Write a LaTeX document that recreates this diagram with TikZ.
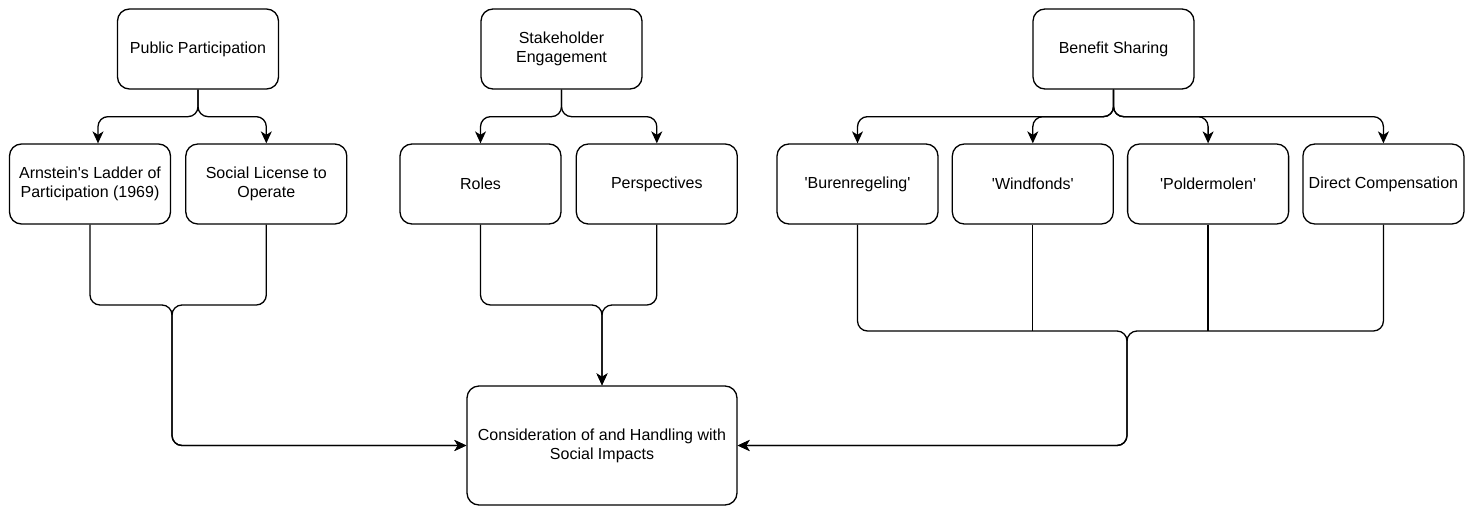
\documentclass[tikz,border=0pt]{standalone}
\usepackage{fontspec}
\setmainfont{Liberation Sans}
\usepackage{tikz}
\usetikzlibrary{arrows.meta,positioning}
\def\q{\textquotesingle}

\begin{document}
\begin{tikzpicture}[x=1pt,y=-1pt,->,>={Stealth[length=12pt,width=11pt,inset=3.5pt]},
                    line width=1.3pt,rounded corners=10pt,
                    box node/.style={draw,rounded corners=12pt,minimum width=161pt,minimum height=80pt,
                                     align=center,font=\fontsize{16}{19}\selectfont}]

  \useasboundingbox (0,0) rectangle (1474,506);

  \node[box node] (pp) at (198,49) {Public Participation};
  \node[box node] (se) at (561.5,49) {Stakeholder\\Engagement};
  \node[box node] (bs) at (1113.5,49) {Benefit Sharing};

  \node[box node] (arn) at (90,184) {Arnstein\q s Ladder of\\Participation (1969)};
  \node[box node] (slo) [right=14pt of arn] {Social License to\\Operate};
  \node[box node] (rol) at (480.5,184) {Roles};
  \node[box node] (per) [right=14pt of rol] {Perspectives};
  \node[box node] (bur) at (857.5,184) {\q Burenregeling\q};
  \node[box node] (win) [right=13pt of bur] {\q Windfonds\q};
  \node[box node] (pol) [right=13pt of win] {\q Poldermolen\q};
  \node[box node] (dc) [right=13pt of pol] {Direct Compensation};

  \node[box node,minimum width=270pt,minimum height=119pt] (con) at (602,445.5)
       {Consideration of and Handling with\\Social Impacts};

  \coordinate (ppjoin) at (172,305);
  \coordinate (sejoin) at (602,305);
  \coordinate (bsjoin) at (1127,331);

  % splits
  \draw (pp.south) -- ++(0,27) -| ([xshift=8pt]arn.north);
  \draw (pp.south) -- ++(0,27) -| (slo.north);
  \draw (se.south) -- ++(0,27) -| (rol.north);
  \draw (se.south) -- ++(0,27) -| (per.north);
  \foreach \n in {bur,win,pol,dc}
    \draw (bs.south) -- ++(0,27) -| (\n.north);

  % merges
  \draw (arn.south) |- (ppjoin) |- (con.west);
  \draw (slo.south) |- (ppjoin) |- (con.west);
  \draw (rol.south) |- (sejoin) -- (con.north);
  \draw (per.south) |- (sejoin) -- (con.north);
  \draw (bur.south) |- (bsjoin) |- (con.east);
  \draw (dc.south) |- (bsjoin) |- (con.east);
  \draw[-] (win.south) -- (win.south |- bsjoin);
  \draw[-] (pol.south) -- (pol.south |- bsjoin);
\end{tikzpicture}
\end{document}
